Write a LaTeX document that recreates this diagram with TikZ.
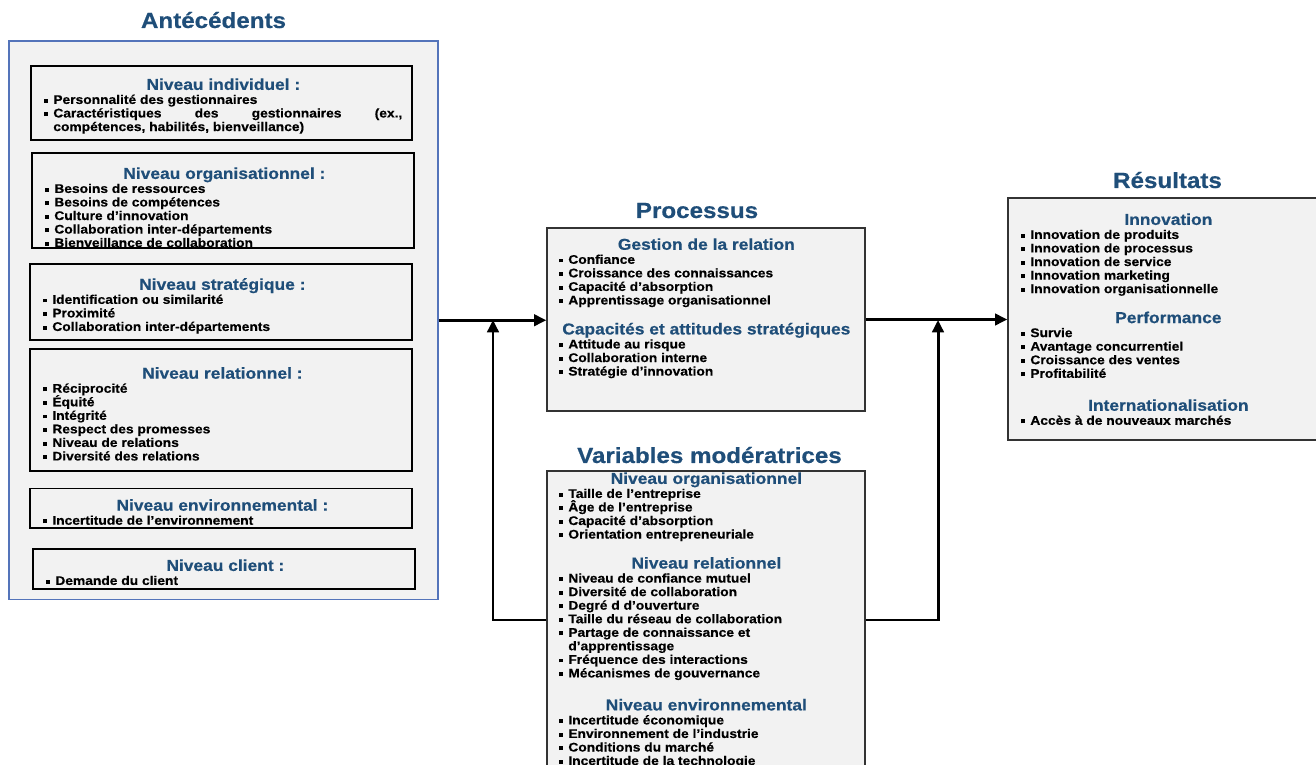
\documentclass[tikz,border=0pt]{standalone}
\usepackage{fontspec}
\setmainfont{Liberation Sans}[BoldFeatures={FakeStretch=1.1, FakeBold=0.5}]
\usetikzlibrary{arrows.meta,fit}

\definecolor{titleblue}{RGB}{31,78,121}
\definecolor{panelgrey}{RGB}{242,242,242}
\definecolor{outerblue}{RGB}{84,116,186}

% texte des cadres
\newcommand\bodyfont{\bfseries\fontsize{7.14}{7.71}\selectfont\lineskiplimit=-10pt\lineskip=0pt}
\newcommand\hd[1]{{\centering\color{titleblue}\fontsize{9}{17.07}\selectfont #1\par}\vspace{0.26pt}}
\newcommand\itm[1]{\par\hangindent=5.12pt\hangafter=1\noindent\makebox[5.12pt][l]{\rule[0.8pt]{2.2pt}{2.2pt}}#1\par}

\tikzset{
  outerbox/.style={draw=outerblue, line width=0.8pt, fill=panelgrey, inner sep=0pt},
  levelbox/.style={draw=black, line width=1pt, fill=panelgrey, inner sep=0pt},
  mainbox/.style={draw=black!80, line width=0.8pt, fill=panelgrey, inner sep=0pt},
  txt/.style={anchor=north west, inner sep=0pt, align=justify, font=\bodyfont},
  title/.style={anchor=base, inner sep=0pt, text=titleblue, font=\bfseries\fontsize{12.5}{15}\selectfont},
  conn/.style={line width=1.7pt, -{Triangle[length=7pt, width=6.5pt]}}
}

\begin{document}
\begin{tikzpicture}[x=0.2mm, y=-0.2mm]
\useasboundingbox (0,0) rectangle (1316,765);
\clip (0,0) rectangle (1316,765);

% Antecedents
\node[title] (antt) at (213.5,28) {Antécédents};
\node[outerbox, fit={(9,41) (438,599.5)}] (ant) {};
\node[levelbox, fit={(31,66) (412,140)}] (indiv) {};
\node[levelbox, fit={(32,153) (414,248)}] (orga) {};
\node[levelbox, fit={(30,264) (412,340)}] (strat) {};
\node[levelbox, fit={(30,349) (412,471)}] (relat) {};
\node[levelbox, fit={(30,488.5) (412,528)}] (envir) {};
\node[levelbox, fit={(33,549) (415,589)}] (client) {};

\node[txt, text width=71.6mm] (indivtxt) at (44,78.1) {\hd{Niveau individuel :}
  \itm{Personnalité des gestionnaires}
  \itm{Caractéristiques des gestionnaires (ex.,\linebreak compétences, habilités, bienveillance)}};
\node[txt, text width=71.6mm] (orgatxt) at (45,167.1) {\hd{Niveau organisationnel :}
  \itm{Besoins de ressources}
  \itm{Besoins de compétences}
  \itm{Culture d’innovation}
  \itm{Collaboration inter-départements}
  \itm{Bienveillance de collaboration}};
\node[txt, text width=71.6mm] (strattxt) at (43,277.9) {\hd{Niveau stratégique :}
  \itm{Identification ou similarité}
  \itm{Proximité}
  \itm{Collaboration inter-départements}};
\node[txt, text width=71.6mm] (relattxt) at (43,366.9) {\hd{Niveau relationnel :}
  \itm{Réciprocité}
  \itm{Équité}
  \itm{Intégrité}
  \itm{Respect des promesses}
  \itm{Niveau de relations}
  \itm{Diversité des relations}};
\node[txt, text width=71.6mm] (envirtxt) at (43,498.9) {\hd{Niveau environnemental :}
  \itm{Incertitude de l’environnement}};
\node[txt, text width=71.6mm] (clienttxt) at (46,559.1) {\hd{Niveau client :}
  \itm{Demande du client}};

% Processus
\node[title] (proct) at (697,218) {Processus};
\node[mainbox, fit={(547,228) (865,411)}] (proc) {};
\node[txt, text width=58.8mm] (proctxt) at (559,238) {\hd{Gestion de la relation}
  \itm{Confiance}
  \itm{Croissance des connaissances}
  \itm{Capacité d’absorption}
  \itm{Apprentissage organisationnel}
  \hd{Capacités et attitudes stratégiques}
  \itm{Attitude au risque}
  \itm{Collaboration interne}
  \itm{Stratégie d’innovation}};

% Resultats
\node[title] (rest) at (1167.5,188) {Résultats};
\node[mainbox, fit={(1008,198) (1326,440)}] (res) {};
\node[txt, text width=58.8mm] (restxt) at (1021,213.1) {\hd{Innovation}
  \itm{Innovation de produits}
  \itm{Innovation de processus}
  \itm{Innovation de service}
  \itm{Innovation marketing}
  \itm{Innovation organisationnelle}
  \hd{Performance}
  \itm{Survie}
  \itm{Avantage concurrentiel}
  \itm{Croissance des ventes}
  \itm{Profitabilité}
  \vspace{1.71pt}\hd{Internationalisation}
  \itm{Accès à de nouveaux marchés}};

% Variables moderatrices
\node[title] (modt) at (709.5,463) {Variables modératrices};
\node[mainbox, fit={(547,471) (865,769)}] (mod) {};
\node[txt, text width=58.8mm] (modtxt) at (559,472.1) {\hd{Niveau organisationnel}
  \itm{Taille de l’entreprise}
  \itm{Âge de l’entreprise}
  \itm{Capacité d’absorption}
  \itm{Orientation entrepreneuriale}
  \hd{Niveau relationnel}
  \itm{Niveau de confiance mutuel}
  \itm{Diversité de collaboration}
  \itm{Degré d d’ouverture}
  \itm{Taille du réseau de collaboration}
  \itm{Partage de connaissance et\\ d’apprentissage}
  \itm{Fréquence des interactions}
  \itm{Mécanismes de gouvernance}
  \vspace{1.71pt}\hd{Niveau environnemental}
  \itm{Incertitude économique}
  \itm{Environnement de l’industrie}
  \itm{Conditions du marché}
  \itm{Incertitude de la technologie}};

% fleches
\coordinate (lj) at (493,320);
\coordinate (rj) at (938,320);
\draw[conn] (ant.east) -- (ant.east -| proc.west);
\draw[conn] (proc.east) -- (proc.east -| res.west);
\draw[conn] (mod.west) -| (lj);
\draw[conn] (mod.east) -| (rj);
\end{tikzpicture}
\end{document}
